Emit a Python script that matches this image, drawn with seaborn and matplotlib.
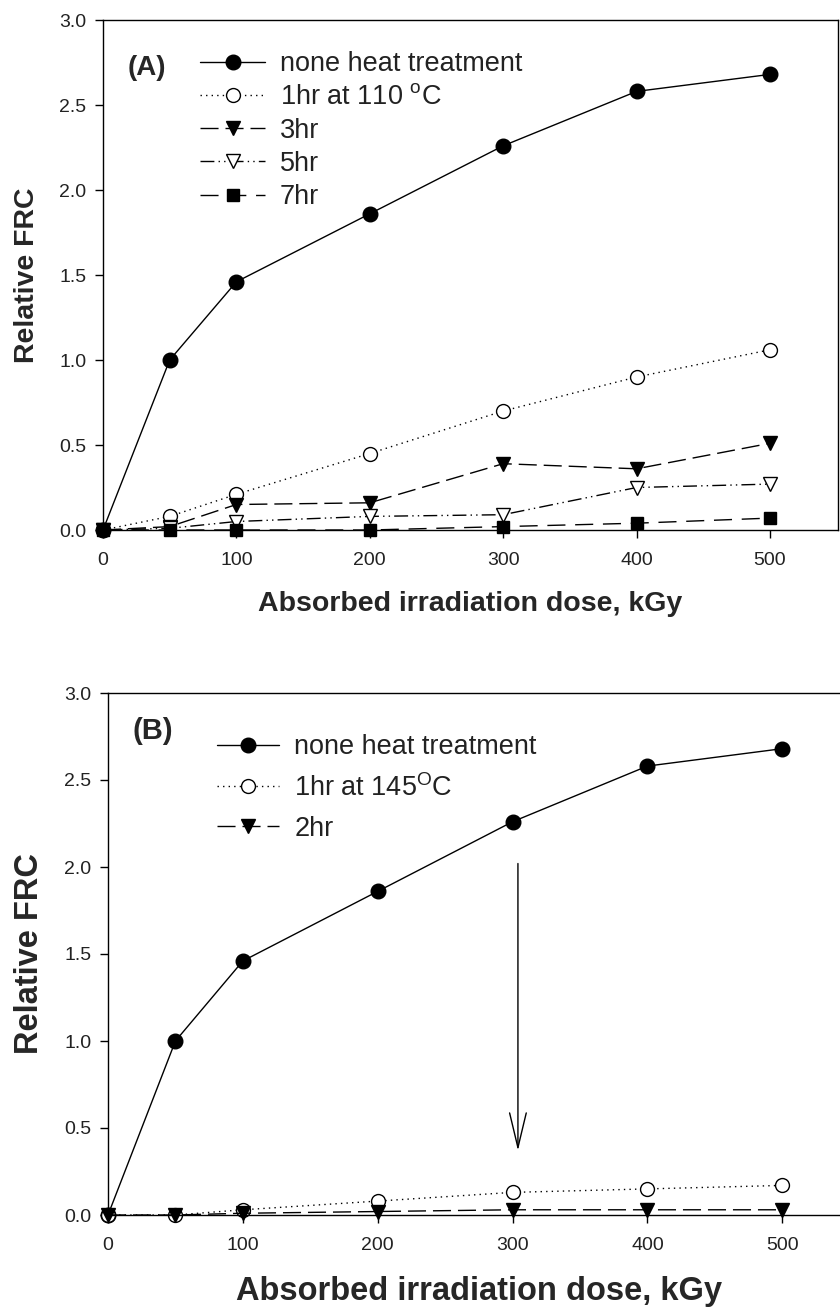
import numpy as np
import pandas as pd
import matplotlib
matplotlib.use("Agg")
import matplotlib.pyplot as plt
import seaborn as sns

# ---------------- data ----------------
dose = [0, 50, 100, 200, 300, 400, 500]

a_none = [0.0, 1.00, 1.46, 1.86, 2.26, 2.58, 2.68]
a_1hr = [0.0, 0.08, 0.21, 0.45, 0.70, 0.90, 1.06]
a_3hr = [0.0, 0.02, 0.15, 0.16, 0.39, 0.36, 0.51]
a_5hr = [0.0, 0.01, 0.05, 0.08, 0.09, 0.25, 0.27]
a_7hr = [0.0, 0.0, 0.0, 0.0, 0.02, 0.04, 0.07]

b_none = [0.0, 1.00, 1.46, 1.86, 2.26, 2.58, 2.68]
b_1hr = [0.0, 0.0, 0.03, 0.08, 0.13, 0.15, 0.17]
b_2hr = [0.0, 0.0, 0.01, 0.02, 0.03, 0.03, 0.03]

a_labels = ["none heat treatment", "1hr at 110 $^{\\mathrm{o}}$C", "3hr", "5hr", "7hr"]
b_labels = ["none heat treatment", "1hr at 145$^{\\mathrm{O}}$C", "2hr"]

yticks = [0.0, 0.5, 1.0, 1.5, 2.0, 2.5, 3.0]
xticks = [0, 100, 200, 300, 400, 500]
xlabel = "Absorbed irradiation dose, kGy"
ylabel = "Relative FRC"

arrow_x = 304
arrow_y_start = 2.02
arrow_y_end = 0.37

# ---------------- style ----------------
sns.set_style("ticks")
plt.rcParams["font.family"] = ["Liberation Sans", "DejaVu Sans"]
plt.rcParams["mathtext.fontset"] = "custom"
plt.rcParams["mathtext.rm"] = "Liberation Sans"
plt.rcParams["mathtext.it"] = "Liberation Sans:italic"
plt.rcParams["mathtext.bf"] = "Liberation Sans:bold"

W, H = 840, 1312
fig = plt.figure(figsize=(W / 100, H / 100), dpi=100)

def px_axes(left, top, right, bottom):
    return fig.add_axes([left / W, 1 - bottom / H, (right - left) / W, (bottom - top) / H])

axA = px_axes(103, 20, 838, 530)
axB = px_axes(108, 693, 851, 1215)

def draw(ax, y, ls, marker, filled, label, ms):
    sns.lineplot(x=dose, y=y, ax=ax, color="black", linewidth=1.0,
                 marker=marker, markersize=ms,
                 markerfacecolor="black" if filled else "white",
                 markeredgecolor="black", markeredgewidth=1.0,
                 label=label, clip_on=False, errorbar=None)
    ax.lines[-1].set_linestyle(ls)

# Panel A
draw(axA, a_none, "-", "o", True, a_labels[0], 10.5)
draw(axA, a_1hr, (0, (1, 3)), "o", False, a_labels[1], 10)
draw(axA, a_3hr, (0, (13, 5)), "v", True, a_labels[2], 10)
draw(axA, a_5hr, (0, (10, 3, 1, 3, 1, 3)), "v", False, a_labels[3], 10)
draw(axA, a_7hr, (0, (13, 7)), "s", True, a_labels[4], 8.5)

# Panel B
draw(axB, b_none, "-", "o", True, b_labels[0], 10.5)
draw(axB, b_1hr, (0, (1, 3)), "o", False, b_labels[1], 10)
draw(axB, b_2hr, (0, (13, 5)), "v", True, b_labels[2], 10)

for ax, lab_fs, tick_fs in ((axA, 20.5, 14), (axB, 23.5, 14)):
    ax.set_xlim(0, 551)
    ax.set_ylim(0, 3.0)
    ax.set_xticks(xticks)
    ax.set_yticks(yticks)
    ax.set_yticklabels([f"{v:.1f}" for v in yticks])
    ax.tick_params(axis="both", direction="out", length=6, width=1,
                   labelsize=tick_fs, color="black", labelcolor="#222222")
    ax.tick_params(axis="x", pad=10)
    ax.tick_params(axis="y", pad=6)
    for s in ax.spines.values():
        s.set_visible(True)
        s.set_linewidth(1.0)
        s.set_color("black")
    ax.set_xlabel(xlabel, fontsize=lab_fs, fontweight="bold", labelpad=16)
    ax.set_ylabel(ylabel, fontsize=lab_fs, fontweight="bold", labelpad=14)

axA.text(18.7, 2.72, "(A)", fontsize=20, fontweight="bold", va="center", ha="left")
axB.text(18.5, 2.78, "(B)", fontsize=21, fontweight="bold", va="center", ha="left")

legA = axA.legend(loc="upper left", bbox_to_anchor=(200 / W, 1 - 51 / H),
                  bbox_transform=fig.transFigure, frameon=False, fontsize=19.5,
                  borderpad=0, borderaxespad=0, handlelength=2.4,
                  handletextpad=0.55, labelspacing=0.27)
legB = axB.legend(loc="upper left", bbox_to_anchor=(217 / W, 1 - 734 / H),
                  bbox_transform=fig.transFigure, frameon=False, fontsize=19.5,
                  borderpad=0, borderaxespad=0, handlelength=2.3,
                  handletextpad=0.55, labelspacing=0.52)
for leg in (legA, legB):
    for t in leg.get_texts():
        t.set_color("#222222")

axB.annotate("", xy=(arrow_x, arrow_y_end), xytext=(arrow_x, arrow_y_start),
             arrowprops=dict(arrowstyle="->,head_length=2.5,head_width=0.6",
                             color="black", lw=1.0, shrinkA=0, shrinkB=0,
                             mutation_scale=10))

fig.savefig("out.png", dpi=100)
